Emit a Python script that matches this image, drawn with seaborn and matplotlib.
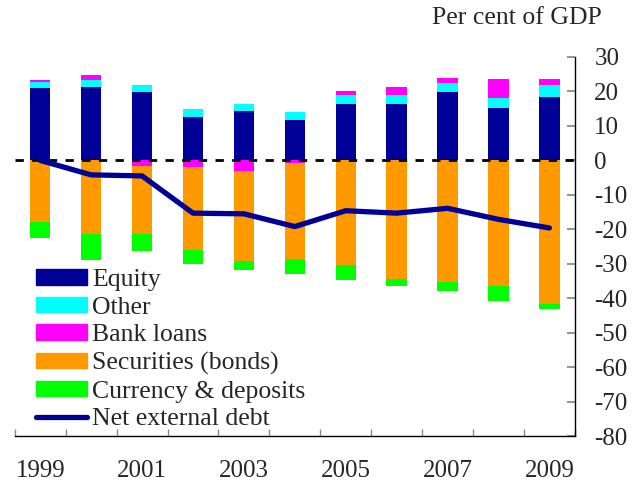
import seaborn as sns
import pandas as pd
import numpy as np
import matplotlib.pyplot as plt
from matplotlib.patches import Patch
from matplotlib.lines import Line2D

years = ['1999', '2000', '2001', '2002', '2003', '2004', '2005', '2006', '2007', '2008', '2009']
year_labels = ['1999', '', '2001', '', '2003', '', '2005', '', '2007', '', '2009']

# assets side (positive)
equity = [21.0, 21.3, 19.9, 12.6, 14.2, 11.6, 16.5, 16.3, 19.7, 15.1, 18.3]
other = [1.7, 1.9, 2.0, 2.2, 2.3, 2.4, 2.6, 2.6, 2.9, 3.0, 3.5]
bank_loans = [0.7, 1.5, -1.5, -1.8, -3.2, -0.7, 1.0, 2.3, 1.4, 5.4, 1.9]
# liabilities side (negative)
securities = [-17.9, -21.3, -19.8, -24.2, -26.1, -28.0, -30.3, -34.5, -35.3, -36.4, -41.6]
currency = [-4.5, -7.5, -5.1, -4.1, -2.6, -4.2, -4.4, -2.0, -2.6, -4.4, -1.6]
net_debt = [0.0, -4.2, -4.5, -15.3, -15.5, -19.2, -14.6, -15.3, -13.9, -17.1, -19.6]

c_eq = '#000099'
c_oth = '#00ffff'
c_bank = '#ff00ff'
c_sec = '#ff9900'
c_cur = '#00ff00'

sns.set_theme(style='white')
plt.rcParams['font.family'] = ['Liberation Serif', 'DejaVu Serif']
plt.rcParams['axes.unicode_minus'] = False

df = pd.DataFrame({'year': years, 'equity': equity, 'other': other,
                   'bank': bank_loans, 'sec': securities, 'cur': currency,
                   'net': net_debt})
bpos = df['bank'].clip(lower=0)
bneg = df['bank'].clip(upper=0)

# cumulative tops, drawn largest first so smaller ones overlay
layers = [
    (df['equity'] + df['other'] + bpos, c_bank),
    (df['equity'] + df['other'], c_oth),
    (df['equity'], c_eq),
    (bneg + df['sec'] + df['cur'], c_cur),
    (bneg + df['sec'], c_sec),
    (bneg, c_bank),
]

fig = plt.figure(figsize=(6.43, 4.83), dpi=100)
ax = fig.add_axes([0.023, 0.097, 0.871, 0.785])

for vals, col in layers:
    sns.barplot(x=df['year'], y=vals, color=col, saturation=1, width=0.4,
                linewidth=0, ax=ax, order=years)

ax.axhline(0, color='black', lw=2, ls=(0, (3, 3)), zorder=3)
sns.lineplot(x=np.arange(len(years)), y=df['net'], color=c_eq, lw=3.8,
             solid_capstyle='round', ax=ax, zorder=4)

ax.set_xlim(-0.5, len(years) - 0.5)
ax.set_ylim(-80, 30)
ax.set_yticks(range(-80, 31, 10))
ax.yaxis.tick_right()
ax.set_xlabel('')
ax.set_ylabel('')
ax.set_xticks(range(len(years)))
ax.set_xticklabels(year_labels)
ax.set_xticks(np.arange(-0.5, len(years), 1), minor=True)
ax.tick_params(axis='x', which='major', length=0, pad=17, labelsize=18)
ax.tick_params(axis='x', which='minor', direction='in', length=5, color='#888888', bottom=True)
ax.tick_params(axis='y', direction='in', length=6, color='#888888', pad=14,
               labelsize=18, right=True, left=False)

for s in ['left', 'top']:
    ax.spines[s].set_visible(False)
for s in ['right', 'bottom']:
    ax.spines[s].set_color('black')
    ax.spines[s].set_linewidth(1)

handles = [Patch(color=c_eq, label='Equity'),
           Patch(color=c_oth, label='Other'),
           Patch(color=c_bank, label='Bank loans'),
           Patch(color=c_sec, label='Securities (bonds)'),
           Patch(color=c_cur, label='Currency & deposits'),
           Line2D([], [], color=c_eq, lw=3.8, solid_capstyle='round', label='Net external debt')]
ax.legend(handles=handles, loc='lower left', frameon=False, fontsize=18.5,
          handlelength=2.0, handleheight=0.55, handletextpad=0.2,
          labelspacing=0.22, borderaxespad=0.2, bbox_to_anchor=(0.01, -0.025))

fig.text(0.936, 0.963, 'Per cent of GDP', ha='right', va='center', fontsize=18.5)

fig.savefig('out.png', dpi=100)
